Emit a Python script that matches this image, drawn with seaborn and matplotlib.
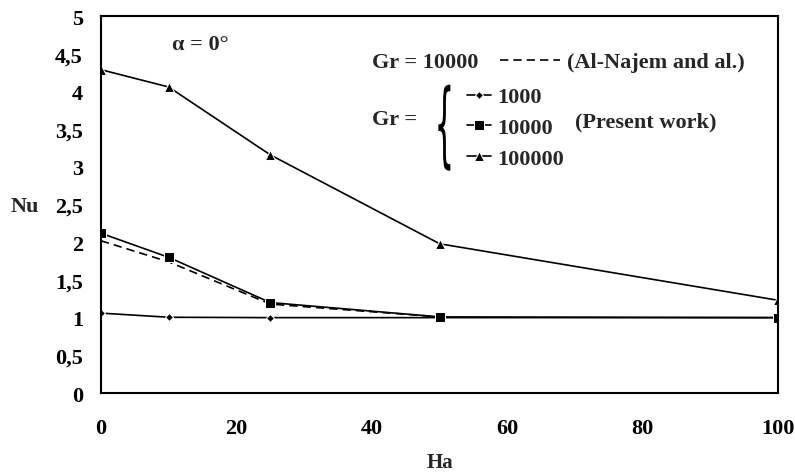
import pandas as pd
import matplotlib.pyplot as plt
import seaborn as sns
from matplotlib.ticker import FuncFormatter
from matplotlib.textpath import TextPath
from matplotlib.font_manager import FontProperties
from matplotlib.patches import PathPatch
from matplotlib.transforms import Affine2D, IdentityTransform

# Donnees (alpha = 0)
ha = [0, 10, 25, 50, 100]
nu_gr1000 = [1.06, 1.005, 1.0, 1.0, 1.0]
nu_gr10000 = [2.12, 1.80, 1.20, 1.01, 1.0]
nu_gr100000 = [4.29, 4.06, 3.16, 1.98, 1.23]

ha_najem = [0, 10, 25, 50]
nu_najem = [2.02, 1.74, 1.18, 1.01]

sns.set_style("white")
plt.rcParams['font.family'] = ['Liberation Serif', 'DejaVu Serif']
plt.rcParams['font.weight'] = 'bold'
FS = 16

fig = plt.figure(figsize=(7.95, 4.77), dpi=100)
ax = fig.add_axes([0.127, 0.174, 0.852, 0.79])

df = pd.DataFrame({'Ha': ha, 'g1': nu_gr1000, 'g2': nu_gr10000, 'g3': nu_gr100000})
dfn = pd.DataFrame({'Ha': ha_najem, 'Nu': nu_najem})

sns.lineplot(data=dfn, x='Ha', y='Nu', ax=ax, color='black', lw=1.2,
             linestyle=(0, (5, 3)), legend=False)
sns.lineplot(data=df, x='Ha', y='g1', ax=ax, color='black', lw=1.2,
             marker='D', markersize=4.5, legend=False)
sns.lineplot(data=df, x='Ha', y='g2', ax=ax, color='black', lw=1.2,
             marker='s', markersize=6.5, legend=False)
sns.lineplot(data=df, x='Ha', y='g3', ax=ax, color='black', lw=1.2,
             marker='^', markersize=7, legend=False)

h_najem, h1, h2, h3 = ax.get_lines()[:4]

ax.set_xlim(0, 100)
ax.set_ylim(0, 5)
ax.set_xticks(range(0, 101, 20))
ax.set_yticks([i * 0.5 for i in range(11)])
ax.yaxis.set_major_formatter(FuncFormatter(lambda v, p: ('%g' % v).replace('.', ',')))
ax.tick_params(direction='out', length=5, width=1.0, labelsize=FS, colors='black')
ax.tick_params(axis='x', pad=13)
ax.tick_params(axis='y', pad=8)
for s in ax.spines.values():
    s.set_color('black')
    s.set_linewidth(1.5)

ax.set_xlabel('Ha', fontsize=15, fontweight='bold', va='center')
ax.xaxis.set_label_coords(0.5, -0.184)
ax.set_ylabel('Nu', fontsize=FS, fontweight='bold', rotation=0, va='center', ha='center')
ax.yaxis.set_label_coords(-0.112, 0.496)

# Annotations et legendes
ax.text(0.105, 0.926, u'\u03b1 = 0\u00b0', transform=ax.transAxes, fontsize=FS,
        fontweight='bold', va='center')
ax.text(0.400, 0.878, 'Gr = 10000', transform=ax.transAxes, fontsize=FS,
        fontweight='bold', va='center')
leg1 = ax.legend(handles=[h_najem], labels=['(Al-Najem and al.)'], loc='center left',
                 bbox_to_anchor=(0.589, 0.878), frameon=False, handlelength=2.7,
                 handletextpad=0.3, prop={'size': FS, 'weight': 'bold'},
                 borderaxespad=0, borderpad=0)
ax.add_artist(leg1)
ax.text(0.400, 0.727, 'Gr =', transform=ax.transAxes, fontsize=FS,
        fontweight='bold', va='center')
ax.legend(handles=[h1, h2, h3], labels=['1000', '10000', '100000'], loc='center left',
          bbox_to_anchor=(0.541, 0.704), frameon=False, handlelength=1.05,
          handletextpad=0.3, labelspacing=0.45, prop={'size': FS, 'weight': 'bold'},
          borderaxespad=0, borderpad=0)
ax.text(0.700, 0.721, '(Present work)', transform=ax.transAxes, fontsize=FS,
        fontweight='bold', va='center')

# accolade fine
tp = TextPath((0, 0), '{', size=1, prop=FontProperties(family='DejaVu Sans', weight='normal'))
ext = tp.get_extents()
cx, cy = ax.transAxes.transform((0.507, 0.704))
tr = (Affine2D().translate(-(ext.x0 + ext.x1) / 2, -(ext.y0 + ext.y1) / 2)
      .scale(12 / ext.width, 86 / ext.height).translate(cx, cy))
fig.patches.append(PathPatch(tr.transform_path(tp), facecolor='black', edgecolor='none',
                             transform=IdentityTransform(), figure=fig))

fig.savefig('out.png', dpi=100)
